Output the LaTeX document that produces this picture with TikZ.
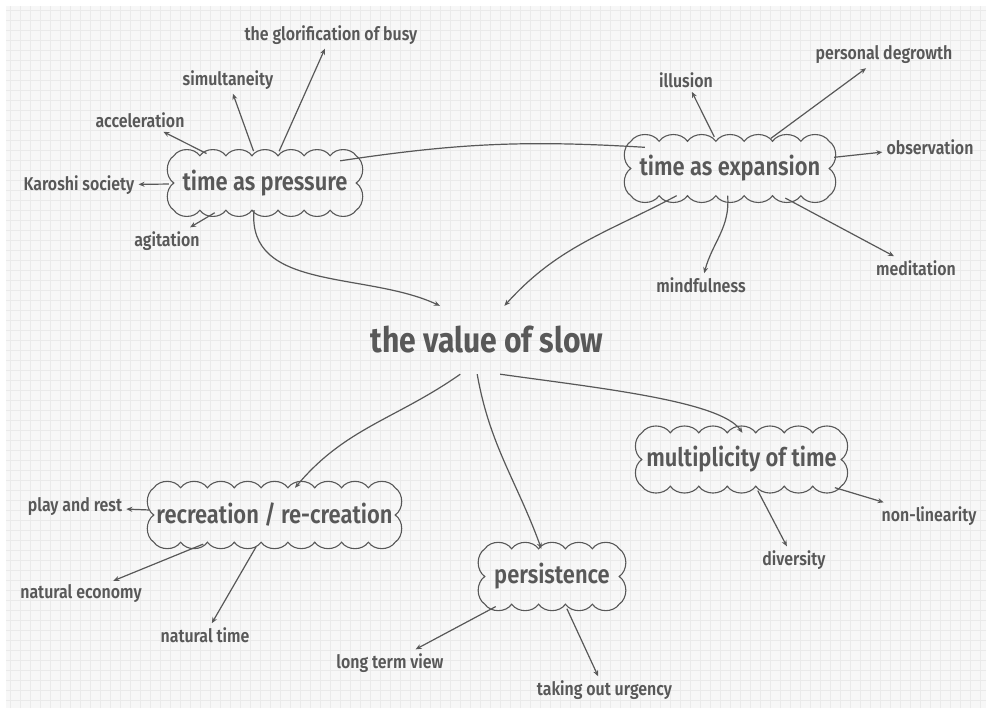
\documentclass[tikz,border=0pt]{standalone}
\usepackage{fontspec}
\newfontfamily\labelfont{Fira Sans SemiBold}[FakeStretch=0.86]
\newfontfamily\titlefont{Fira Sans Bold}[FakeStretch=0.86]
\usetikzlibrary{calc, arrows.meta}
\definecolor{ink}{HTML}{585858}
\definecolor{paper}{HTML}{F7F7F7}
\definecolor{gridgray}{HTML}{EAEAEA}

% scalloped outline round a node: node, bumps across, bumps down
\newcommand{\scallop}[3]{%
  \draw[cloudline] (#1.north west)
    \foreach \k in {1,...,#2} {to[bend left=55] ($(#1.north west)!\k/#2!(#1.north east)$)}
    \foreach \k in {1,...,#3} {to[bend left=55] ($(#1.north east)!\k/#3!(#1.south east)$)}
    \foreach \k in {1,...,#2} {to[bend left=55] ($(#1.south east)!\k/#2!(#1.south west)$)}
    \foreach \k in {1,...,#3} {to[bend left=55] ($(#1.south west)!\k/#3!(#1.north west)$)};
}

\begin{document}
\begin{tikzpicture}[x=1pt, y=1pt,
  cloud/.style={inner sep=0pt, minimum height=54pt, text=ink,
    font=\labelfont\fontsize{25.5}{28}\selectfont},
  cloudline/.style={draw=ink, line width=1.1pt},
  leaf/.style={inner sep=4pt, text=ink, font=\labelfont\fontsize{18.5}{21}\selectfont},
  link/.style={draw=ink, line width=1.2pt},
  arr/.style={link, -{Stealth[length=6pt,width=5pt]}},
  spoke/.style={arr, shorten <=5pt}]
\useasboundingbox (0,0) rectangle (990,-712);
\fill[white] (0,0) rectangle (990,-712);
\fill[paper] (6,-6) rectangle (986,-708);
\draw[gridgray, line width=0.5pt, step=10] (6,-6) grid (986,-708);

% the clouds
\node[cloud, minimum width=182pt] (pr) at (265,-183) {time as pressure};
\node[cloud, minimum width=198pt] (ex) at (730,-168.5) {time as expansion};
\node[cloud, minimum width=241pt] (rc) at (274.5,-515) {recreation / re-creation};
\node[cloud, minimum width=134pt, minimum height=55pt] (ps) at (552,-576.5) {persistence};
\node[cloud, minimum width=199pt, minimum height=53pt] (mu) at (741.5,-459.5) {multiplicity of time};
\scallop{pr}{7}{2}
\scallop{ex}{7}{2}
\scallop{rc}{9}{2}
\scallop{ps}{5}{2}
\scallop{mu}{7}{2}

\node[inner sep=0pt, minimum width=260pt, minimum height=68pt, text=ink,
  font=\titlefont\fontsize{35}{38}\selectfont] (slow) at (487,-340) {the value of slow};

% the leaves
\node[leaf] (busy) at (331,-35) {the glorification of busy};
\node[leaf] (simul) at (228,-80) {simultaneity};
\node[leaf] (accel) at (140,-120) {acceleration};
\node[leaf] (karo) at (79,-185) {Karoshi society};
\node[leaf] (agit) at (167,-241) {agitation};
\node[leaf] (illu) at (686,-80) {illusion};
\node[leaf] (degr) at (884,-55) {personal degrowth};
\node[leaf] (obs) at (930,-147) {observation};
\node[leaf] (medi) at (916,-268) {meditation};
\node[leaf] (mind) at (701,-285) {mindfulness};
\node[leaf] (play) at (75,-507) {play and rest};
\node[leaf] (econ) at (81,-594) {natural economy};
\node[leaf] (ntime) at (205,-635) {natural time};
\node[leaf] (long) at (390,-663) {long term view};
\node[leaf] (urg) at (604.5,-690) {taking out urgency};
\node[leaf] (div) at (794,-560) {diversity};
\node[leaf] (nonlin) at (929,-516) {non-linearity};

% spokes
\foreach \a/\b in {pr/busy, pr/simul, pr/accel, pr/karo, pr/agit,
  ex/illu, ex/degr, ex/obs, ex/medi,
  rc/play, rc/econ, rc/ntime,
  ps/long, ps/urg, mu/div, mu/nonlin}
  \draw[spoke] (\a) -- (\b);
\draw[arr] (ex.265) to[out=-85, in=75] (mind);

% main links
\draw[link] ($(pr.north east)+(-16,-5)$) to[bend left=6] ($(ex.north west)+(14,-6)$);
\draw[arr] (pr.248) to[out=-95, in=155] (slow.144);
\draw[arr] (ex.207) to[out=208, in=48] (slow.63);
\draw[arr] (slow.232) to[out=215, in=50] (rc.53);
\draw[arr] (slow.254) to[out=-80, in=110] (ps.111);
\draw[arr] (slow.291) to[out=-8, in=125, in looseness=0.4] (mu.88);
\end{tikzpicture}
\end{document}
